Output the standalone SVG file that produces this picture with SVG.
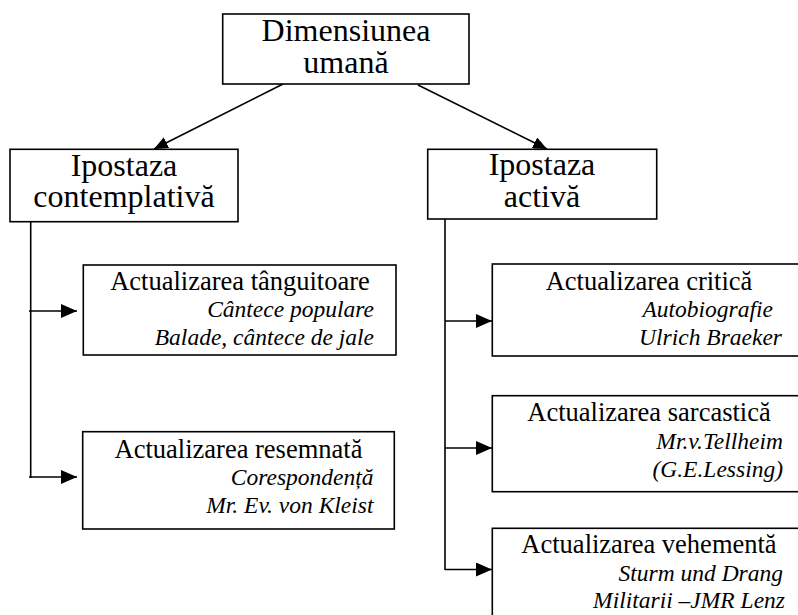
<svg xmlns="http://www.w3.org/2000/svg" width="798" height="615" viewBox="0 0 798 615">
<style>
.box{fill:#fff;stroke:#000;stroke-width:1.6}
.big{font-family:"Liberation Serif","Times New Roman",serif;font-size:32px;fill:#000;text-anchor:middle}
.ttl{font-family:"Liberation Serif","Times New Roman",serif;font-size:26.5px;fill:#000;text-anchor:middle}
.it{font-family:"Liberation Serif","Times New Roman",serif;font-size:23.5px;font-style:italic;fill:#000;text-anchor:end}
.ln{fill:none;stroke:#000;stroke-width:1.6}
</style>
<defs>
<marker id="ah" markerWidth="16" markerHeight="14" refX="16" refY="7" orient="auto" markerUnits="userSpaceOnUse">
<path d="M0,0 L16,7 L0,14 Z" fill="#000"/>
</marker>
<marker id="ahs" markerWidth="14" markerHeight="12" refX="14" refY="6" orient="auto" markerUnits="userSpaceOnUse">
<path d="M0,0 L14,6 L0,12 Z" fill="#000"/>
</marker>
</defs>
<rect width="798" height="615" fill="#fff"/>
<g id="connectors">
<line class="ln" x1="283" y1="84" x2="154" y2="149" marker-end="url(#ahs)"/>
<line class="ln" x1="418" y1="85" x2="547" y2="149" marker-end="url(#ahs)"/>
<line class="ln" x1="30.7" y1="222" x2="30.7" y2="478"/>
<line class="ln" x1="29" y1="311" x2="77" y2="311" marker-end="url(#ah)"/>
<line class="ln" x1="29" y1="477" x2="77" y2="477" marker-end="url(#ah)"/>
<line class="ln" x1="445" y1="219" x2="445" y2="570"/>
<line class="ln" x1="445" y1="321" x2="492" y2="321" marker-end="url(#ah)"/>
<line class="ln" x1="445" y1="448" x2="492" y2="448" marker-end="url(#ah)"/>
<line class="ln" x1="445" y1="569.5" x2="492" y2="569.5" marker-end="url(#ah)"/>
</g>
<g id="dimensiunea">
<rect class="box" x="222.7" y="14" width="246.3" height="70"/>
<text class="big" x="346" y="41">Dimensiunea</text>
<text class="big" x="346" y="73">umană</text>
</g>
<g id="contemplativa">
<rect class="box" x="10" y="149.3" width="228" height="72.4"/>
<text class="big" x="124" y="176">Ipostaza</text>
<text class="big" x="124" y="206.7">contemplativă</text>
</g>
<g id="activa">
<rect class="box" x="427.7" y="149.3" width="229" height="69.7"/>
<text class="big" x="542" y="175">Ipostaza</text>
<text class="big" x="542" y="206.7">activă</text>
</g>
<g id="tanguitoare">
<rect class="box" x="83.3" y="265" width="312.7" height="90"/>
<text class="ttl" x="240" y="290">Actualizarea tânguitoare</text>
<text class="it" x="374" y="316.7">Cântece populare</text>
<text class="it" x="374" y="345">Balade, cântece de jale</text>
</g>
<g id="resemnata">
<rect class="box" x="82.7" y="431.7" width="311.6" height="97.3"/>
<text class="ttl" x="238.5" y="458.3">Actualizarea resemnată</text>
<text class="it" x="373.5" y="485">Corespondență</text>
<text class="it" x="373.5" y="513.3">Mr. Ev. von Kleist</text>
</g>
<g id="critica">
<rect class="box" x="492.3" y="264" width="320" height="92"/>
<text class="ttl" x="649" y="290">Actualizarea critică</text>
<text class="it" x="773" y="316.7">Autobiografie</text>
<text class="it" x="782" y="345">Ulrich Braeker</text>
</g>
<g id="sarcastica">
<rect class="box" x="492.3" y="395.7" width="320" height="96"/>
<text class="ttl" x="649" y="420.7">Actualizarea sarcastică</text>
<text class="it" x="783" y="449">Mr.v.Tellheim</text>
<text class="it" x="783" y="476.7">(G.E.Lessing)</text>
</g>
<g id="vehementa">
<rect class="box" x="492.3" y="528.3" width="320" height="100"/>
<text class="ttl" x="649" y="552.7">Actualizarea vehementă</text>
<text class="it" x="783" y="580.7">Sturm und Drang</text>
<text class="it" x="785" y="608.3">Militarii –JMR Lenz</text>
</g>
</svg>
